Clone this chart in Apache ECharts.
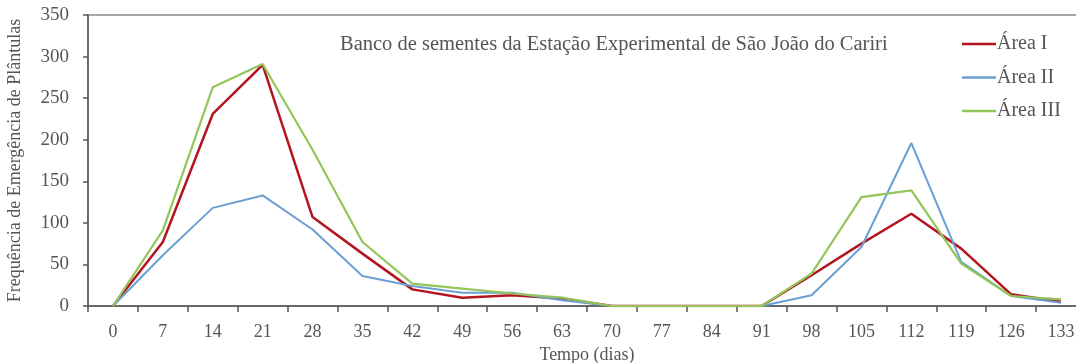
<!DOCTYPE html>
<html>
<head>
<meta charset="utf-8">
<script src="https://cdn.jsdelivr.net/npm/echarts@6/dist/echarts.min.js"></script>
<style>
  html, body { margin: 0; padding: 0; background: #fff; }
  #chart { width: 1076px; height: 363px; }
</style>
</head>
<body>
<div id="chart"></div>
<script>
// Sampling days
const days = ['0','7','14','21','28','35','42','49','56','63','70','77','84','91','98','105','112','119','126','133'];

// Seedling emergence per area
const areaI   = [0, 77, 231, 290, 107, 63, 20, 10, 13, 9, 0, 0, 0, 0, 37, 75, 111, 69, 14, 5];
const areaII  = [0, 61, 118, 133, 92, 36, 24, 16, 16, 7, 0, 0, 0, 0, 13, 71, 196, 53, 12, 4];
const areaIII = [0, 91, 263, 291, 188, 77, 27, 21, 15, 10, 0, 0, 0, 0, 39, 131, 139, 51, 12, 8];

const yTicks = { min: 0, max: 350, step: 50 };

const serif = '"Liberation Serif", "DejaVu Serif", serif';
const textGrey = '#555';

const chart = echarts.init(document.getElementById('chart'), null, { renderer: 'canvas' });

function lineSeries(name, data, color, width) {
  return {
    name, type: 'line', data,
    symbol: 'none', smooth: false,
    lineStyle: { color, width },
    itemStyle: { color },
    emphasis: { disabled: true },
    animation: false
  };
}

chart.setOption({
  backgroundColor: '#fff',
  animation: false,
  title: {
    text: 'Banco de sementes da Estação Experimental de São João do Cariri',
    left: 340, top: 34, padding: 0,
    textStyle: { fontFamily: serif, fontSize: 20.5, fontWeight: 'normal', color: textGrey }
  },
  legend: {
    orient: 'vertical',
    left: 962, top: 34, padding: 0,
    icon: 'rect',
    itemWidth: 34, itemHeight: 2.5, itemGap: 13.5,
    textStyle: { fontFamily: serif, fontSize: 20, color: textGrey, padding: [0, 0, 0, -4] },
    data: ['Área I', 'Área II', 'Área III']
  },
  grid: {
    left: 88, top: 15, right: -10, bottom: 57,
    outerBoundsMode: 'none',
    containLabel: false,
    show: true, borderColor: '#8a8a8a', borderWidth: 1.5, backgroundColor: 'transparent'
  },
  xAxis: {
    type: 'category',
    data: days,
    boundaryGap: true,
    name: 'Tempo (dias)',
    nameLocation: 'middle',
    nameGap: 40,
    nameTextStyle: { fontFamily: serif, fontSize: 18, color: textGrey },
    axisLine: { lineStyle: { color: '#555', width: 1.5 } },
    axisTick: { show: true, length: 6, lineStyle: { color: '#555', width: 1.5 } },
    axisLabel: { fontFamily: serif, fontSize: 18, color: textGrey, margin: 17 },
    splitLine: { show: false }
  },
  yAxis: {
    type: 'value',
    min: yTicks.min, max: yTicks.max, interval: yTicks.step,
    name: 'Frequência de Emergência de Plântulas',
    nameLocation: 'middle',
    nameGap: 64,
    nameTextStyle: { fontFamily: serif, fontSize: 18, color: textGrey },
    axisLine: { show: true, lineStyle: { color: '#555', width: 1.5 } },
    axisTick: { show: true, length: 5, lineStyle: { color: '#555', width: 1.5 } },
    axisLabel: { fontFamily: serif, fontSize: 19, color: textGrey, margin: 19 },
    splitLine: { show: false }
  },
  series: [
    lineSeries('Área I', areaI, '#b3151f', 2.5),
    lineSeries('Área II', areaII, '#6a9fd3', 2),
    lineSeries('Área III', areaIII, '#93c55a', 2.2)
  ]
});
</script>
</body>
</html>
